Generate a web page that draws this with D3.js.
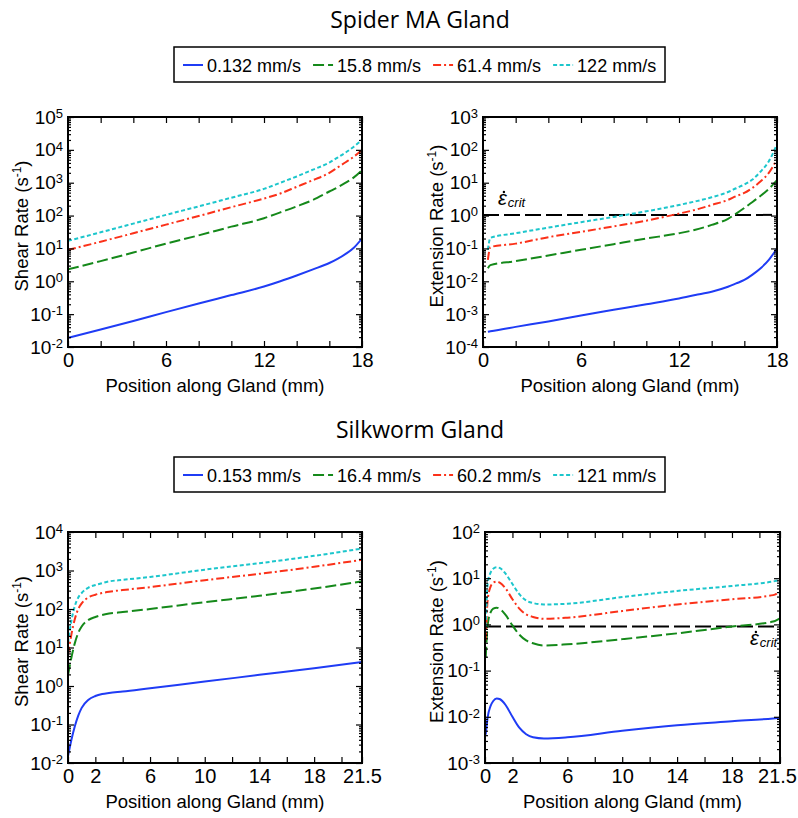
<!DOCTYPE html>
<html>
<head>
<meta charset="utf-8">
<script src="https://cdn.jsdelivr.net/npm/d3@7"></script>
<style>
body { margin: 0; background: #fff; }
text { font-family: "Liberation Sans", Arial, sans-serif; fill: #000; }
.title { font-family: "Open Sans", "Noto Sans", sans-serif; font-size: 23px; }
</style>
</head>
<body>
<div id="chart"></div>
<script>
"use strict";

// ---- data ----
const spiderSpeeds = ['0.132 mm/s', '15.8 mm/s', '61.4 mm/s', '122 mm/s'];
const silkSpeeds = ['0.153 mm/s', '16.4 mm/s', '60.2 mm/s', '121 mm/s'];

// spider MA gland, shear rate (s-1) vs position (mm)
const spShearX = [0, 2, 4, 6, 8, 10, 12, 13, 14, 15, 16, 16.5, 17, 17.5, 18];
const spShearA = [0.019, 0.034, 0.062, 0.115, 0.21, 0.38, 0.69, 1.0, 1.5, 2.3, 3.6, 4.8, 6.8, 10.5, 20];
const spShearB = [2.3, 4.1, 7.5, 14, 25, 46, 83, 125, 190, 300, 540, 720, 1000, 1450, 2400];
const spShearC = [9, 16, 29, 53, 97, 180, 330, 470, 750, 1200, 2000, 2900, 4200, 6200, 10000];
const spShearD = [17, 31, 57, 105, 190, 350, 650, 1000, 1550, 2500, 4100, 5800, 8300, 12500, 20000];

// spider MA gland, extension rate (s-1)
const spExtX = [0.3, 0.45, 2, 4, 6, 8, 10, 12, 13, 14, 15, 15.5, 16, 16.5, 17, 17.5, 18];
const spExtA = [2.9e-4, 3.0e-4, 4.1e-4, 6.0e-4, 9.1e-4, 1.35e-3, 2.0e-3, 3.0e-3, 3.8e-3, 4.8e-3, 6.8e-3, 8.6e-3, 0.011, 0.016, 0.025, 0.045, 0.1];
const spExtB = [0.025, 0.031, 0.041, 0.061, 0.091, 0.135, 0.2, 0.29, 0.37, 0.52, 0.8, 1.15, 1.7, 2.6, 4.0, 6.5, 12];
const spExtC = [0.045, 0.11, 0.14, 0.22, 0.32, 0.47, 0.7, 1.15, 1.5, 2.1, 3.0, 3.9, 4.9, 7, 11, 20, 52];
const spExtD = [0.09, 0.21, 0.29, 0.43, 0.63, 0.91, 1.35, 2.1, 2.7, 3.6, 5.2, 6.8, 8.8, 12.5, 22, 45, 150];
const spCrit = 1.05;

// silkworm gland, shear rate (s-1)
const skShearX = [0, 0.25, 0.5, 0.75, 1, 1.5, 2, 2.5, 3, 4, 6, 10, 14, 18, 21.5];
const skShearA = [0.015, 0.04, 0.09, 0.17, 0.27, 0.44, 0.55, 0.62, 0.66, 0.72, 0.88, 1.3, 1.95, 2.9, 4.2];
const skShearB = [1.9, 5.5, 13, 24, 35, 52, 62, 70, 76, 83, 100, 150, 220, 340, 520];
const skShearC = [6.5, 22, 55, 100, 140, 200, 235, 260, 280, 310, 370, 560, 820, 1250, 1900];
const skShearD = [13, 50, 120, 200, 260, 360, 420, 470, 520, 570, 680, 1050, 1550, 2400, 3700];

// silkworm gland, extension rate (s-1)
const skExtX = [0.05, 0.2, 0.4, 0.6, 0.85, 1.1, 1.5, 2, 2.5, 3, 3.5, 4.3, 6, 10, 14, 18, 21, 21.5];
const skExtA = [0.0041, 0.010, 0.017, 0.022, 0.025, 0.024, 0.018, 0.010, 0.0058, 0.0042, 0.0036, 0.0034, 0.0036, 0.0050, 0.0066, 0.0080, 0.0092, 0.0095];
const skExtB = [0.19, 1.0, 1.8, 2.2, 2.3, 2.15, 1.6, 0.95, 0.6, 0.45, 0.39, 0.35, 0.37, 0.48, 0.64, 0.9, 1.15, 1.35];
const skExtC = [0.46, 3.5, 6.5, 8.0, 8.4, 7.9, 6.0, 3.5, 2.2, 1.65, 1.45, 1.32, 1.4, 1.95, 2.7, 3.5, 4.3, 5.2];
const skExtD = [0.9, 8, 13, 16, 17.2, 16.5, 12.5, 7.5, 4.5, 3.3, 2.9, 2.7, 2.8, 3.9, 5.3, 6.8, 8.5, 9.1];
const skCrit = 0.9;

const spiderTickLabels = [0, 6, 12, 18];
const silkTickLabels = [0, 2, 6, 10, 14, 18, 21.5];

// ---- styles ----
const STYLES = [
	{ color: '#1f3cf5', dash: null },
	{ color: '#15891a', dash: '11,4' },
	{ color: '#fb3119', dash: '8,3,2,3' },
	{ color: '#1cc6cc', dash: '4,2.5' }
];

const svg = d3.select('#chart')
	.append('svg')
	.attr('width', 798)
	.attr('height', 818);

let clipId = 0;

function drawPanel(cfg) {
	const b = cfg.box;
	const x = d3.scaleLinear().domain(cfg.xDomain).range([b.x, b.x + b.w]);
	const y = d3.scaleLog().domain(cfg.yDomain).range([b.y + b.h, b.y]);
	const g = svg.append('g');

	const lo = Math.log10(cfg.yDomain[0]), hi = Math.log10(cfg.yDomain[1]);
	const majors = d3.range(lo, hi + 1).map(e => Math.pow(10, e));
	const minors = [];
	for (let e = lo; e < hi; e++)
		for (let k = 2; k <= 9; k++) minors.push(k * Math.pow(10, e));
	// ticks every 2 mm, plus the labelled end value
	const xTicks = Array.from(new Set(d3.range(cfg.xDomain[0], cfg.xDomain[1], 2).concat(cfg.xLabels)));

	const id = 'clip' + (clipId++);
	svg.append('clipPath').attr('id', id)
		.append('rect').attr('x', b.x).attr('y', b.y).attr('width', b.w).attr('height', b.h);

	// critical extension rate
	if (cfg.crit) {
		g.append('line')
			.attr('x1', b.x).attr('x2', b.x + b.w)
			.attr('y1', y(cfg.crit)).attr('y2', y(cfg.crit))
			.attr('stroke', '#000').attr('stroke-width', 2)
			.attr('stroke-dasharray', '16,5');
		const [px, py] = cfg.critPos;
		const eps = g.append('text')
			.attr('x', px).attr('y', py)
			.attr('font-family', '"Liberation Serif", serif')
			.attr('font-style', 'italic').attr('font-size', 20).text('\u03b5');
		const w = eps.node().getComputedTextLength();
		g.append('circle').attr('cx', px + w / 2 + 1.5).attr('cy', py - 13).attr('r', 1.2).attr('fill', '#000');
		g.append('text').attr('x', px + w + 1).attr('y', py + 2)
			.attr('font-style', 'italic').attr('font-size', 13).text('crit');
	}

	const line = d3.line()
		.x(d => x(d[0]))
		.y(d => y(d[1]))
		.curve(d3.curveMonotoneX);

	g.append('g').attr('clip-path', `url(#${id})`)
		.selectAll('path')
		.data(cfg.series)
		.enter().append('path')
		.attr('d', s => line(cfg.xs.map((v, i) => [v, s[i]])))
		.attr('fill', 'none')
		.attr('stroke', (s, i) => STYLES[i].color)
		.attr('stroke-width', 2)
		.attr('stroke-dasharray', (s, i) => STYLES[i].dash);

	// axes, ticks inward
	const bottom = g.append('g').attr('transform', `translate(0,${b.y + b.h})`)
		.call(d3.axisBottom(x).tickValues(xTicks).tickSize(-6).tickSizeOuter(0).tickPadding(6)
			.tickFormat(d => cfg.xLabels.includes(d) ? d : ''));
	g.append('g').attr('transform', `translate(0,${b.y})`)
		.call(d3.axisTop(x).tickValues(xTicks).tickSize(-6).tickSizeOuter(0).tickFormat(''));
	const left = g.append('g').attr('transform', `translate(${b.x},0)`)
		.call(d3.axisLeft(y).tickValues(majors).tickSize(-6).tickSizeOuter(0).tickPadding(5).tickFormat(() => ''));
	g.append('g').attr('transform', `translate(${b.x},0)`)
		.call(d3.axisLeft(y).tickValues(minors).tickSize(-3).tickSizeOuter(0).tickFormat(''));
	g.append('g').attr('transform', `translate(${b.x + b.w},0)`)
		.call(d3.axisRight(y).tickValues(majors).tickSize(-6).tickSizeOuter(0).tickFormat(''));
	g.append('g').attr('transform', `translate(${b.x + b.w},0)`)
		.call(d3.axisRight(y).tickValues(minors).tickSize(-3).tickSizeOuter(0).tickFormat(''));

	g.selectAll('.domain').remove();
	g.selectAll('.tick line').attr('stroke-width', 1.2);
	g.selectAll('g').attr('font-family', null).attr('font-size', null);
	bottom.selectAll('text').attr('font-size', 20).each(function () {
		// keep the last label inside the page
		const r = this.getBoundingClientRect();
		if (r.right > 797) d3.select(this).attr('dx', 797 - r.right);
	});

	left.selectAll('.tick text').each(function (d) {
		const t = d3.select(this).attr('font-size', 19);
		t.append('tspan').text('10');
		t.append('tspan').attr('font-size', 13).attr('dy', '-0.45em').text(Math.round(Math.log10(d)));
	});

	g.append('rect')
		.attr('x', b.x).attr('y', b.y).attr('width', b.w).attr('height', b.h)
		.attr('fill', 'none').attr('stroke', '#000').attr('stroke-width', 2);

	// axis titles
	g.append('text')
		.attr('x', b.x + b.w / 2).attr('y', b.y + b.h + 45)
		.attr('text-anchor', 'middle').attr('font-size', 18.5)
		.text('Position along Gland (mm)');
	const yt = g.append('text')
		.attr('transform', `translate(${cfg.yTitleX},${b.y + b.h / 2 - 6}) rotate(-90)`)
		.attr('text-anchor', 'middle').attr('font-size', 18.5);
	yt.append('tspan').text(cfg.yTitle + ' (s');
	yt.append('tspan').attr('font-size', 12).attr('dy', -7).text('-1');
	yt.append('tspan').attr('dy', 7).text(')');
}

function drawLegend(top, labels, title, titleY) {
	svg.append('text').attr('class', 'title')
		.attr('x', 420).attr('y', titleY).attr('text-anchor', 'middle').text(title);
	svg.append('rect')
		.attr('x', 174).attr('y', top).attr('width', 491).attr('height', 35)
		.attr('fill', 'none').attr('stroke', '#000').attr('stroke-width', 1.5);
	let cx = 183;
	const cy = top + 18;
	labels.forEach((lab, i) => {
		svg.append('line')
			.attr('x1', cx).attr('x2', cx + 20).attr('y1', cy).attr('y2', cy)
			.attr('stroke', STYLES[i].color).attr('stroke-width', 2)
			.attr('stroke-dasharray', STYLES[i].dash);
		const t = svg.append('text')
			.attr('x', cx + 24).attr('y', cy + 6.5).attr('font-size', 18).text(lab);
		cx += 24 + t.node().getComputedTextLength() + 12;
	});
}

drawLegend(47, spiderSpeeds, 'Spider MA Gland', 28);
drawLegend(457, silkSpeeds, 'Silkworm Gland', 438);

drawPanel({
	box: { x: 68, y: 117, w: 294, h: 230 },
	xDomain: [0, 18], yDomain: [1e-2, 1e5], xLabels: spiderTickLabels,
	xs: spShearX, series: [spShearA, spShearB, spShearC, spShearD],
	yTitle: 'Shear Rate', yTitleX: 28
});
drawPanel({
	box: { x: 483, y: 117, w: 294, h: 230 },
	xDomain: [0, 18], yDomain: [1e-4, 1e3], xLabels: spiderTickLabels,
	xs: spExtX, series: [spExtA, spExtB, spExtC, spExtD],
	yTitle: 'Extension Rate', yTitleX: 443,
	crit: spCrit, critPos: [498, 205]
});
drawPanel({
	box: { x: 68, y: 532, w: 294, h: 231 },
	xDomain: [0, 21.5], yDomain: [1e-2, 1e4], xLabels: silkTickLabels,
	xs: skShearX, series: [skShearA, skShearB, skShearC, skShearD],
	yTitle: 'Shear Rate', yTitleX: 28
});
drawPanel({
	box: { x: 485, y: 532, w: 295, h: 231 },
	xDomain: [0, 21.5], yDomain: [1e-3, 1e2], xLabels: silkTickLabels,
	xs: skExtX, series: [skExtA, skExtB, skExtC, skExtD],
	yTitle: 'Extension Rate', yTitleX: 443,
	crit: skCrit, critPos: [750, 645]
});
</script>
</body>
</html>
